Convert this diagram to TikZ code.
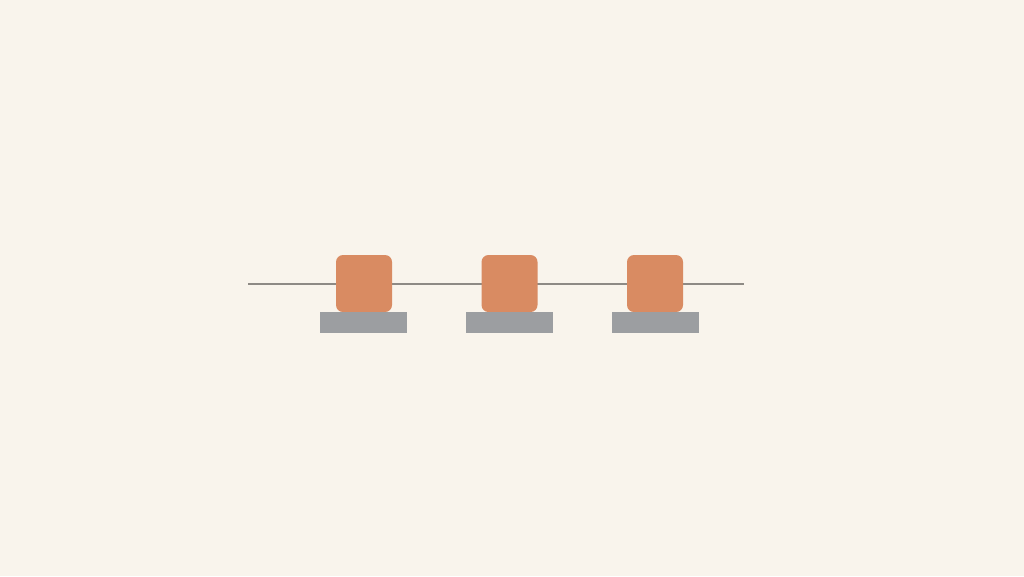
\documentclass[tikz,border=0pt]{standalone}
\usetikzlibrary{positioning}
\definecolor{bg}{HTML}{F9F4EC}
\definecolor{blockc}{HTML}{D98B62}
\definecolor{basec}{HTML}{9C9EA1}
\definecolor{linec}{HTML}{8E8A85}
\tikzset{
  block/.style={fill=blockc, draw=none, rounded corners=7pt, minimum width=56pt, minimum height=57pt, inner sep=0pt},
  basebox/.style={fill=basec, draw=none, minimum width=87pt, minimum height=21pt, inner sep=0pt},
  wire/.style={draw=linec, line width=2pt}
}
\begin{document}
\begin{tikzpicture}[x=1pt,y=-1pt]
\fill[bg] (0,0) rectangle (1024,576);
\useasboundingbox (0,0) rectangle (1024,576);
\coordinate (ls) at (248,284);
\coordinate (le) at (744,284);
\draw[wire] (ls) -- (le);
\node[block] (s1) at (364,283.5) {};
\node[block] (s2) at (509.5,283.5) {};
\node[block] (s3) at (655,283.5) {};
\node[basebox] (b1) at (363.5,322.5) {};
\node[basebox] (b2) at (509.5,322.5) {};
\node[basebox] (b3) at (655,322.5) {};
\end{tikzpicture}
\end{document}
